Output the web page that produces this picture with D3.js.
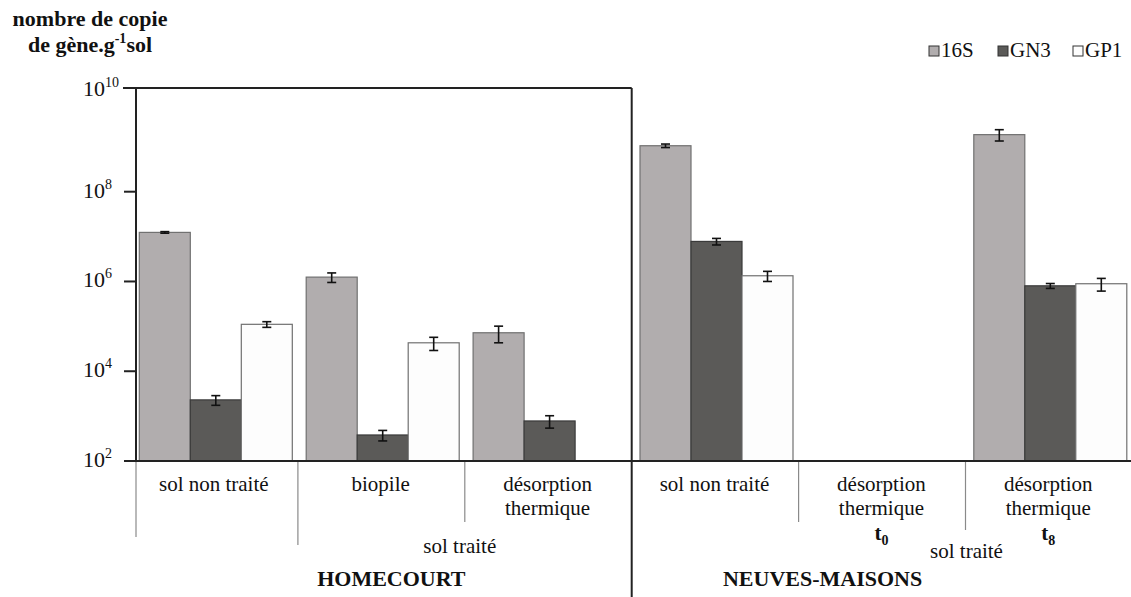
<!DOCTYPE html>
<html>
<head>
<meta charset="utf-8">
<script src="https://cdn.jsdelivr.net/npm/d3@7"></script>
<style>
  html, body { margin: 0; padding: 0; background: #ffffff; }
  svg { display: block; }
  svg text { font-family: "Liberation Serif", "DejaVu Serif", serif; }
</style>
</head>
<body>
<div id="chart"></div>
<script>
// ---------------- data ----------------
const categories = ["HC_snt", "HC_bio", "HC_dt", "NM_snt", "NM_t0", "NM_t8"];
const categoryLines = [["sol non traité"], ["biopile"], ["désorption", "thermique"],
                       ["sol non traité"], ["désorption", "thermique"], ["désorption", "thermique"]];
const categorySubscripts = [null, null, null, null, "0", "8"];
const series = ["16S", "GN3", "GP1"];
const values16S = [1.24e7, 1.25e6, 7.2e4, 7.7e8, null, 1.26e9];
const valuesGN3 = [2.3e3, 380, 780, 7.8e6, null, 8.0e5];
const valuesGP1 = [1.11e5, 4.3e4, null, 1.34e6, null, 8.9e5];
const err16S = [5e5, 3e5, 2.9e4, 6e7, null, 3.1e8];
const errGN3 = [560, 100, 240, 1.3e6, null, 1.0e5];
const errGP1 = [1.6e4, 1.4e4, null, 3.4e5, null, 2.8e5];
const yTickValues = [1e2, 1e4, 1e6, 1e8, 1e10];
const yTickExponents = ["2", "4", "6", "8", "10"];
const sites = ["HOMECOURT", "NEUVES-MAISONS"];
const groupLabel = "sol traité";

// ---------------- layout ----------------
const W = 1131, H = 597;
const colors = { "16S": "#b1adae", "GN3": "#5b5a58", "GP1": "#fdfdfd" };
const strokes = { "16S": "#707070", "GN3": "#3a3a3a", "GP1": "#707070" };
const valuesBySeries = { "16S": values16S, "GN3": valuesGN3, "GP1": valuesGP1 };
const errBySeries = { "16S": err16S, "GN3": errGN3, "GP1": errGP1 };

const svg = d3.select("#chart").append("svg").attr("width", W).attr("height", H)
  .attr("fill", "#111");
svg.append("rect").attr("width", W).attr("height", H).attr("fill", "#fff");

const x = d3.scaleBand().domain(categories).range([131, 1132.4]).padding(0);
const xs = d3.scaleBand().domain(series).range([8.3, 161.3]).padding(0);
const y = d3.scaleLog().domain([1e2, 1e8, 1e10]).range([461, 191.7, 88]);

const axisLeftX = 136;
const baseY = y(1e2);
const topY = y(1e10);

// bars
const barData = [];
categories.forEach((c, i) => series.forEach(s => {
  const v = valuesBySeries[s][i];
  if (v != null) barData.push({ c, s, v, e: errBySeries[s][i] });
}));

svg.append("g").selectAll("rect").data(barData).join("rect")
  .attr("x", d => x(d.c) + xs(d.s))
  .attr("y", d => y(d.v))
  .attr("width", xs.bandwidth())
  .attr("height", d => baseY - y(d.v))
  .attr("fill", d => colors[d.s])
  .attr("stroke", d => strokes[d.s])
  .attr("stroke-width", 1.2);

// error bars
const eb = svg.append("g").attr("stroke", "#111").attr("stroke-width", 1.6);
barData.forEach(d => {
  const cx = x(d.c) + xs(d.s) + xs.bandwidth() / 2;
  const y1 = y(d.v + d.e), y2 = y(Math.max(d.v - d.e, 1e2));
  eb.append("line").attr("x1", cx).attr("x2", cx).attr("y1", y1).attr("y2", y2);
  eb.append("line").attr("x1", cx - 4.5).attr("x2", cx + 4.5).attr("y1", y1).attr("y2", y1);
  eb.append("line").attr("x1", cx - 4.5).attr("x2", cx + 4.5).attr("y1", y2).attr("y2", y2);
});

// category separator lines below axis
const sepLengths = [537, 545, 522, null, 522, 530];
categories.forEach((c, i) => {
  if (i === 3) return;
  const sx = i === 0 ? axisLeftX : x(c);
  svg.append("line").attr("x1", sx).attr("x2", sx)
    .attr("y1", baseY).attr("y2", sepLengths[i])
    .attr("stroke", "#8a8a8a").attr("stroke-width", 1.2);
});

// frame / axes
const frame = svg.append("g").attr("stroke", "#222").attr("stroke-width", 2);
frame.append("line").attr("x1", axisLeftX).attr("x2", axisLeftX).attr("y1", topY).attr("y2", baseY);
frame.append("line").attr("x1", 123).attr("x2", x("NM_snt")).attr("y1", topY).attr("y2", topY);
frame.append("line").attr("x1", 124).attr("x2", W).attr("y1", baseY).attr("y2", baseY);
frame.append("line").attr("x1", x("NM_snt")).attr("x2", x("NM_snt")).attr("y1", topY).attr("y2", H);

// y ticks
yTickValues.forEach((t, i) => {
  if (t !== 1e10) {
    svg.append("line").attr("x1", 124).attr("x2", axisLeftX)
      .attr("y1", y(t)).attr("y2", y(t)).attr("stroke", "#222").attr("stroke-width", 2);
  }
  const tx = svg.append("text").attr("x", 83).attr("y", y(t) + (t === 1e10 ? 8 : 6))
    .attr("font-size", 22);
  tx.append("tspan").text("10");
  tx.append("tspan").attr("font-size", 14).attr("dy", -9).text(yTickExponents[i]);
});

// title
const title = svg.append("g").attr("font-weight", "bold");
title.append("text").attr("x", 90).attr("y", 26).attr("text-anchor", "middle")
  .attr("font-size", 22).attr("font-weight", "bold").text("nombre de copie");
const t2 = title.append("text").attr("x", 90).attr("y", 52).attr("text-anchor", "middle")
  .attr("font-size", 22).attr("font-weight", "bold");
t2.append("tspan").text("de gène.g");
t2.append("tspan").attr("font-size", 14).attr("dy", -9).text("-1");
t2.append("tspan").attr("dy", 9).text("sol");

// legend
const legendX = [929, 998, 1073];
series.forEach((s, i) => {
  svg.append("rect").attr("x", legendX[i]).attr("y", 46).attr("width", 10).attr("height", 10)
    .attr("fill", colors[s]).attr("stroke", "#333").attr("stroke-width", 1);
  svg.append("text").attr("x", legendX[i] + 12).attr("y", 57).attr("font-size", 21).text(s);
});

// category labels
categories.forEach((c, i) => {
  const cx = x(c) + xs.range()[0] + (xs.range()[1] - xs.range()[0]) / 2 - 2;
  categoryLines[i].forEach((line, j) => {
    svg.append("text").attr("x", cx).attr("y", 491 + j * 24).attr("text-anchor", "middle")
      .attr("font-size", 21).text(line);
  });
  if (categorySubscripts[i]) {
    const st = svg.append("text").attr("x", cx).attr("y", 540).attr("text-anchor", "middle")
      .attr("font-size", 21).attr("font-weight", "bold");
    st.append("tspan").text("t");
    st.append("tspan").attr("font-size", 14).attr("dy", 5).text(categorySubscripts[i]);
  }
});

// group labels
svg.append("text").attr("x", x("HC_dt") - 5).attr("y", 553).attr("text-anchor", "middle")
  .attr("font-size", 21).text(groupLabel);
svg.append("text").attr("x", x("NM_t8") + 1).attr("y", 558).attr("text-anchor", "middle")
  .attr("font-size", 21).text(groupLabel);

// site labels
svg.append("text").attr("x", x("HC_bio") + x.bandwidth() / 2 + 10).attr("y", 586)
  .attr("text-anchor", "middle").attr("font-size", 22).attr("font-weight", "bold").text(sites[0]);
svg.append("text").attr("x", x("NM_t0") + 24).attr("y", 586)
  .attr("text-anchor", "middle").attr("font-size", 22).attr("font-weight", "bold").text(sites[1]);
</script>
</body>
</html>
